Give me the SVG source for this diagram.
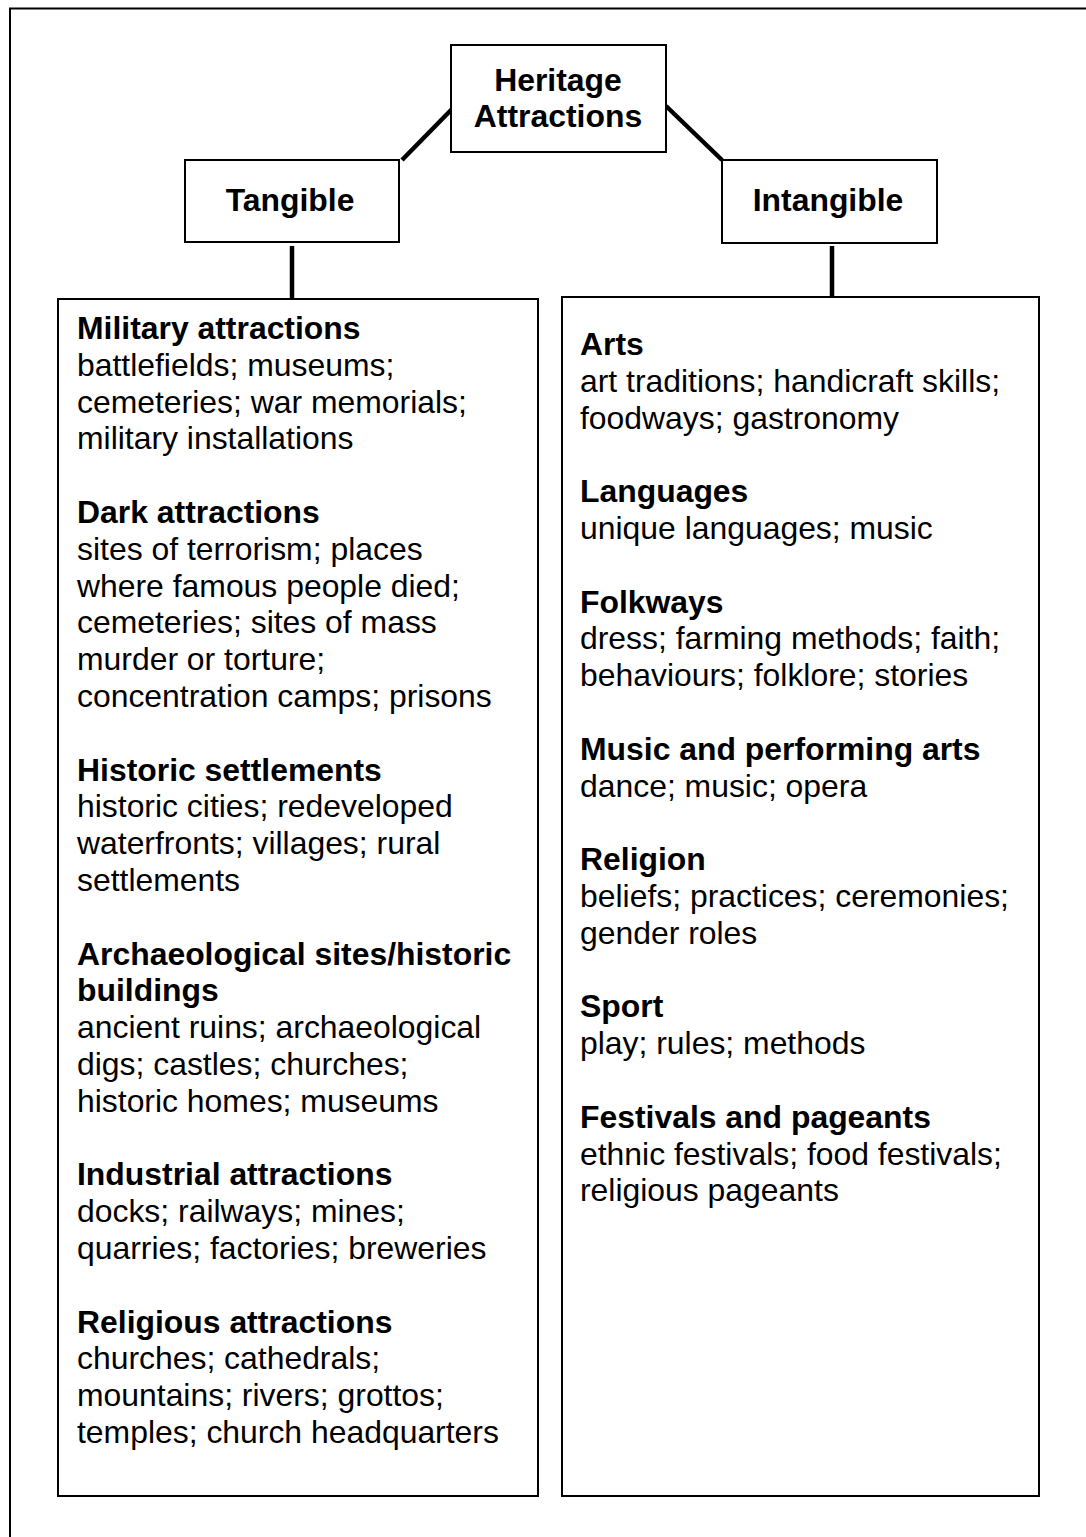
<svg xmlns="http://www.w3.org/2000/svg" width="1086" height="1537" viewBox="0 0 1086 1537">
<style>
.box{fill:#fff;stroke:#000;stroke-width:2}
.conn{stroke:#000;stroke-width:4.5;fill:none}
.frame{stroke:#000;stroke-width:2;fill:none}
text{font-family:"Liberation Sans",Arial,sans-serif;font-size:31.9px;fill:#000}
.b{font-weight:bold}
.c{text-anchor:middle;font-weight:bold}
</style>
<rect width="1086" height="1537" fill="#fff"/>
<path class="frame" d="M1086 8.5 H10 V1537"/>
<g id="connectors">
<line class="conn" x1="454" y1="107" x2="402" y2="160"/>
<line class="conn" x1="666" y1="106" x2="722" y2="160"/>
<line class="conn" x1="292" y1="246" x2="292" y2="298"/>
<line class="conn" x1="832" y1="246" x2="832" y2="297"/>
</g>
<g id="heritage">
<rect class="box" x="451" y="45" width="215" height="107"/>
<text class="c" x="558" y="91">Heritage</text>
<text class="c" x="558" y="127">Attractions</text>
</g>
<g id="tangible">
<rect class="box" x="185" y="160" width="214" height="82"/>
<text class="c" x="290" y="211">Tangible</text>
</g>
<g id="intangible">
<rect class="box" x="722" y="160" width="215" height="83"/>
<text class="c" x="828" y="211">Intangible</text>
</g>
<g id="tangible-list">
<rect class="box" x="58" y="299" width="480" height="1197"/>
<text x="77" y="339">
<tspan x="77" dy="0" class="b">Military attractions</tspan>
<tspan x="77" dy="36.8">battlefields; museums;</tspan>
<tspan x="77" dy="36.8">cemeteries; war memorials;</tspan>
<tspan x="77" dy="36.8">military installations</tspan>
<tspan x="77" dy="73.6" class="b">Dark attractions</tspan>
<tspan x="77" dy="36.8">sites of terrorism; places</tspan>
<tspan x="77" dy="36.8">where famous people died;</tspan>
<tspan x="77" dy="36.8">cemeteries; sites of mass</tspan>
<tspan x="77" dy="36.8">murder or torture;</tspan>
<tspan x="77" dy="36.8">concentration camps; prisons</tspan>
<tspan x="77" dy="73.6" class="b">Historic settlements</tspan>
<tspan x="77" dy="36.8">historic cities; redeveloped</tspan>
<tspan x="77" dy="36.8">waterfronts; villages; rural</tspan>
<tspan x="77" dy="36.8">settlements</tspan>
<tspan x="77" dy="73.6" class="b">Archaeological sites/historic</tspan>
<tspan x="77" dy="36.8" class="b">buildings</tspan>
<tspan x="77" dy="36.8">ancient ruins; archaeological</tspan>
<tspan x="77" dy="36.8">digs; castles; churches;</tspan>
<tspan x="77" dy="36.8">historic homes; museums</tspan>
<tspan x="77" dy="73.6" class="b">Industrial attractions</tspan>
<tspan x="77" dy="36.8">docks; railways; mines;</tspan>
<tspan x="77" dy="36.8">quarries; factories; breweries</tspan>
<tspan x="77" dy="73.6" class="b">Religious attractions</tspan>
<tspan x="77" dy="36.8">churches; cathedrals;</tspan>
<tspan x="77" dy="36.8">mountains; rivers; grottos;</tspan>
<tspan x="77" dy="36.8">temples; church headquarters</tspan>
</text>
</g>
<g id="intangible-list">
<rect class="box" x="562" y="297" width="477" height="1199"/>
<text x="580" y="355">
<tspan x="580" dy="0" class="b">Arts</tspan>
<tspan x="580" dy="36.8">art traditions; handicraft skills;</tspan>
<tspan x="580" dy="36.8">foodways; gastronomy</tspan>
<tspan x="580" dy="73.6" class="b">Languages</tspan>
<tspan x="580" dy="36.8">unique languages; music</tspan>
<tspan x="580" dy="73.6" class="b">Folkways</tspan>
<tspan x="580" dy="36.8">dress; farming methods; faith;</tspan>
<tspan x="580" dy="36.8">behaviours; folklore; stories</tspan>
<tspan x="580" dy="73.6" class="b">Music and performing arts</tspan>
<tspan x="580" dy="36.8">dance; music; opera</tspan>
<tspan x="580" dy="73.6" class="b">Religion</tspan>
<tspan x="580" dy="36.8">beliefs; practices; ceremonies;</tspan>
<tspan x="580" dy="36.8">gender roles</tspan>
<tspan x="580" dy="73.6" class="b">Sport</tspan>
<tspan x="580" dy="36.8">play; rules; methods</tspan>
<tspan x="580" dy="73.6" class="b">Festivals and pageants</tspan>
<tspan x="580" dy="36.8">ethnic festivals; food festivals;</tspan>
<tspan x="580" dy="36.8">religious pageants</tspan>
</text>
</g>
</svg>
